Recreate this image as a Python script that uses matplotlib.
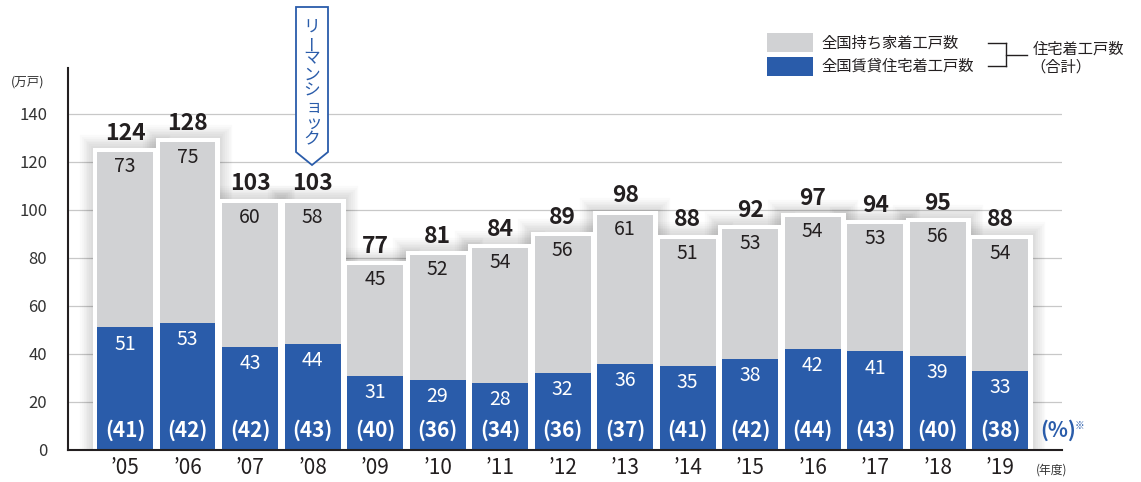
import matplotlib
matplotlib.use("Agg")
import matplotlib.pyplot as plt
from matplotlib.patches import Rectangle, Polygon
from matplotlib.lines import Line2D

plt.rcParams['font.family'] = ['Noto Sans CJK JP', 'DejaVu Sans']

years = ["’05", "’06", "’07", "’08", "’09", "’10", "’11", "’12", "’13", "’14",
         "’15", "’16", "’17", "’18", "’19"]
totals = [124, 128, 103, 103, 77, 81, 84, 89, 98, 88, 92, 97, 94, 95, 88]
owner = [73, 75, 60, 58, 45, 52, 54, 56, 61, 51, 53, 54, 53, 56, 54]
rental = [51, 53, 43, 44, 31, 29, 28, 32, 36, 35, 38, 42, 41, 39, 33]
pct = [41, 42, 42, 43, 40, 36, 34, 36, 37, 41, 42, 44, 43, 40, 38]
yticks = [0, 20, 40, 60, 80, 100, 120, 140]

GRAY = "#d1d2d4"
BLUE = "#2a5caa"
DARK = "#231f20"

W, H = 1141, 482
fig = plt.figure(figsize=(W / 100, H / 100), dpi=100)
ax = fig.add_axes([68 / W, 1 - 450 / H, (1062 - 68) / W, (450 - 68) / H])


def px(x, y):
    return (x / W, 1 - y / H)


x = list(range(len(years)))
bw = 0.895
gray_h = [t - r for t, r in zip(totals, rental)]

# soft shadow around the white frames
for k in range(1, 8):
    ax.bar(x, totals, width=bw, color="black", edgecolor="black", alpha=0.018,
           linewidth=6.5 + 2.6 * k, zorder=1.5)
# white frame behind bars
ax.bar(x, totals, width=bw, color="white", edgecolor="white", linewidth=6.5, zorder=2)
ax.bar(x, rental, width=bw, color=BLUE, zorder=3, linewidth=0)
ax.bar(x, gray_h, bottom=rental, width=bw, color=GRAY, zorder=3, linewidth=0)

for i in x:
    ax.annotate(str(totals[i]), (i, totals[i]), xytext=(0, 13.5), textcoords="offset points",
                ha="center", va="center", fontsize=16.5, fontweight="bold", color=DARK, zorder=5)
    ax.annotate(str(owner[i]), (i, totals[i]), xytext=(0, -10.5), textcoords="offset points",
                ha="center", va="center", fontsize=14, color=DARK, zorder=5)
    ax.annotate(str(rental[i]), (i, rental[i]), xytext=(0, -12), textcoords="offset points",
                ha="center", va="center", fontsize=14, color="white", zorder=5)
    ax.text(i, 8.3, f"({pct[i]})", ha="center", va="center", fontsize=15,
            fontweight="bold", color="white", zorder=5)

ax.set_xlim(-0.912, 14.99)
ax.set_ylim(0, 159)
ax.set_yticks(yticks)
ax.set_yticklabels([str(v) for v in yticks], fontsize=12, color="#333333")
ax.set_xticks(x)
ax.set_xticklabels(years, fontsize=15, color=DARK)
ax.tick_params(axis="both", length=0)
ax.tick_params(axis="y", pad=15)
ax.tick_params(axis="x", pad=5)
ax.grid(axis="y", color="#c8c8c8", linewidth=0.9, zorder=0)
ax.set_axisbelow(True)
for s in ["top", "right"]:
    ax.spines[s].set_visible(False)
ax.spines["left"].set_color(DARK)
ax.spines["left"].set_linewidth(1.5)
ax.spines["bottom"].set_color(DARK)
ax.spines["bottom"].set_linewidth(1.5)
ax.spines["left"].set_zorder(6)
ax.spines["bottom"].set_zorder(6)

# unit labels
fig.text(*px(28, 82), "(万戸)", ha="center", va="center", fontsize=9, color="#333333")
fig.text(*px(1052, 470), "(年度)", ha="center", va="center", fontsize=8.5, color="#333333")
fig.text(*px(1058, 430), "(%)", ha="center", va="center", fontsize=15,
         fontweight="bold", color=BLUE)
fig.text(*px(1080, 426), "※", ha="center", va="center", fontsize=7, color=BLUE)

# legend
fig.patches.append(Rectangle(px(767, 52), 46 / W, 19 / H, transform=fig.transFigure,
                             facecolor=GRAY, edgecolor="none"))
fig.patches.append(Rectangle(px(767, 76), 46 / W, 19 / H, transform=fig.transFigure,
                             facecolor=BLUE, edgecolor="none"))
fig.text(*px(821, 43), "全国持ち家着工戸数", ha="left", va="center", fontsize=11, color=DARK)
fig.text(*px(821, 66), "全国賃貸住宅着工戸数", ha="left", va="center", fontsize=11, color=DARK)
fig.text(*px(1033, 49), "住宅着工戸数", ha="left", va="center", fontsize=11, color=DARK)
fig.text(*px(1030, 67), "（合計）", ha="left", va="center", fontsize=11, color=DARK)
for (x0, y0), (x1, y1) in [((988, 43), (1006, 43)), ((988, 66), (1006, 66)),
                           ((1006, 43), (1006, 66)), ((1006, 54.5), (1027, 54.5))]:
    a, b = px(x0, y0), px(x1, y1)
    fig.lines.append(Line2D([a[0], b[0]], [a[1], b[1]], transform=fig.transFigure,
                            color=DARK, linewidth=1))

# Lehman shock marker
poly = [px(296, 7), px(328, 7), px(328, 152), px(312, 165), px(296, 152)]
fig.patches.append(Polygon(poly, closed=True, transform=fig.transFigure,
                           facecolor="white", edgecolor=BLUE, linewidth=1.3, zorder=10))
chars = list("リーマンショック")
for k, ch in enumerate(chars):
    cy = 27 + k * 16.1
    cx = 312
    rot = 0
    if ch == "ー":
        rot = 90
    if ch in "ョッ":
        cx += 1.5
    fig.text(*px(cx, cy), ch, ha="center", va="center", fontsize=12, color=BLUE,
             rotation=rot, zorder=11)

fig.savefig("out.png", dpi=100)
